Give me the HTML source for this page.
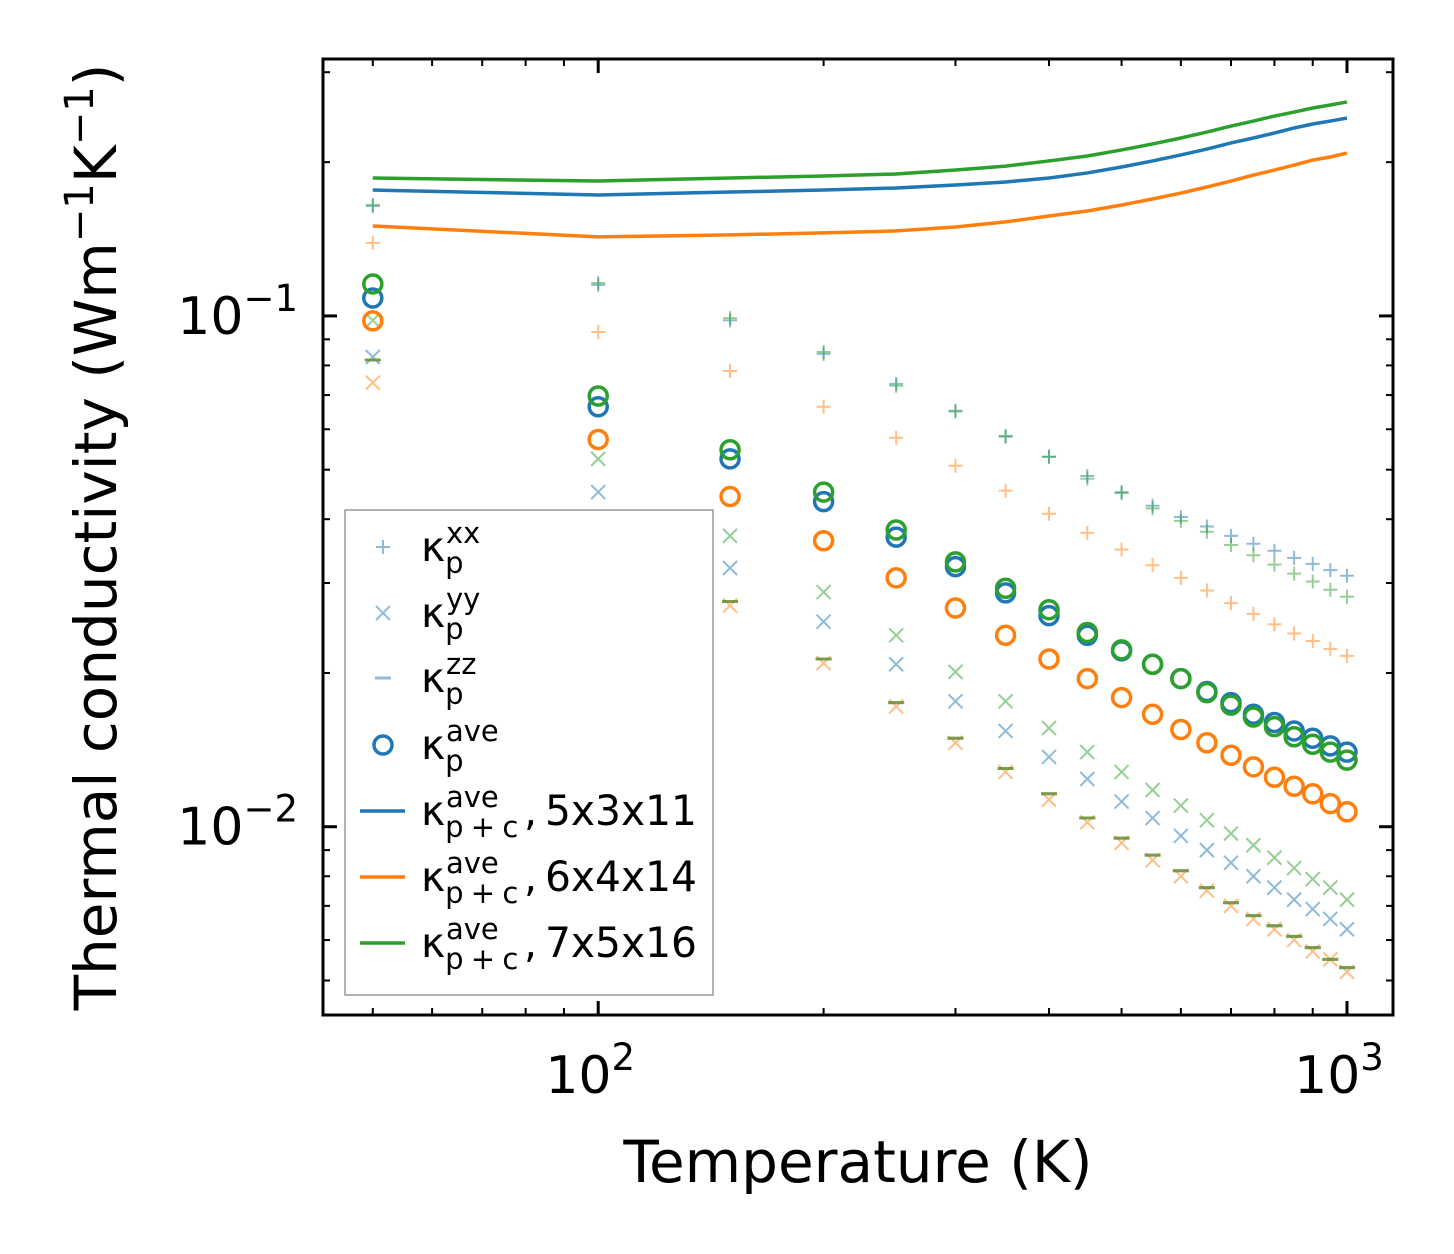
<!DOCTYPE html>
<html><head><meta charset="utf-8"><style>
html,body{margin:0;padding:0;background:#fff;}
svg{display:block;font-family:"DejaVu Sans","Liberation Sans",sans-serif;}
</style></head><body>
<svg id="chart" width="1454" height="1254" viewBox="0 0 1454 1254" xmlns="http://www.w3.org/2000/svg">
<rect width="1454" height="1254" fill="#fff"/>
<g id="marks"></g>
<g id="axes"></g>
<g id="legend"></g>
</svg>
<script>
const temps=[50,100,150,200,250,300,350,400,450,500,550,600,650,700,750,800,850,900,950,1000];
const aveBlue=[0.1084,0.0664,0.0525,0.0433,0.0369,0.0323,0.0287,0.0259,0.0237,0.0221,0.0208,0.0195,0.0184,0.0175,0.0166,0.016,0.0154,0.0149,0.0144,0.014];
const aveOrange=[0.0978,0.0573,0.0443,0.0363,0.0307,0.0268,0.0237,0.0213,0.0195,0.0179,0.0166,0.0155,0.0146,0.0138,0.0131,0.0125,0.012,0.0116,0.0111,0.0107];
const aveGreen=[0.1155,0.0697,0.0547,0.0452,0.0381,0.033,0.0293,0.0266,0.024,0.0222,0.0208,0.0195,0.0183,0.0173,0.0164,0.0157,0.015,0.0145,0.014,0.0135];
const xxBlue=[0.164,0.115,0.098,0.0843,0.0736,0.0652,0.0582,0.053,0.0486,0.0452,0.0425,0.0404,0.0387,0.0371,0.0358,0.0347,0.0336,0.0327,0.0318,0.031];
const xxGreen=[0.165,0.116,0.099,0.085,0.073,0.065,0.058,0.053,0.048,0.045,0.042,0.0397,0.0378,0.0356,0.034,0.0326,0.0313,0.0302,0.0291,0.0282];
const xxOrange=[0.139,0.093,0.078,0.0664,0.0577,0.0509,0.0455,0.041,0.0376,0.0349,0.0325,0.0307,0.029,0.0274,0.0261,0.0249,0.0239,0.0231,0.0223,0.0216];
const yyBlue=[0.0831,0.0452,0.0321,0.0252,0.0208,0.0176,0.0154,0.0137,0.0124,0.0112,0.0104,0.0096,0.009,0.0085,0.008,0.0076,0.0072,0.0069,0.0066,0.0063];
const yyGreen=[0.098,0.0525,0.0371,0.0288,0.0237,0.0201,0.0176,0.0156,0.014,0.0128,0.0118,0.011,0.0103,0.0097,0.0092,0.0087,0.0083,0.0079,0.0076,0.0072];
const yyOrange=[0.074,0.0381,0.0271,0.0209,0.0172,0.0146,0.0128,0.0113,0.0102,0.0093,0.0086,0.008,0.0075,0.007,0.0066,0.0063,0.006,0.0057,0.0055,0.0052];
const zzAll=[0.082,0.0397,0.0276,0.0213,0.0175,0.0149,0.013,0.0116,0.0104,0.0095,0.0088,0.0082,0.0076,0.0071,0.0067,0.0064,0.0061,0.0058,0.0055,0.0053];
const lineBlue=[0.1764,0.1725,0.1748,0.1764,0.178,0.1804,0.1829,0.1862,0.1905,0.1957,0.2011,0.2066,0.2122,0.2181,0.223,0.2281,0.2333,0.2375,0.2407,0.244];
const lineOrange=[0.15,0.1428,0.1441,0.1454,0.1467,0.1493,0.1528,0.1569,0.1605,0.1649,0.1694,0.174,0.1788,0.1837,0.1887,0.193,0.1974,0.2019,0.2047,0.2084];
const lineGreen=[0.1862,0.1837,0.1862,0.1879,0.1896,0.193,0.1965,0.2011,0.2056,0.2113,0.2171,0.223,0.2291,0.2353,0.2407,0.2462,0.2507,0.2553,0.2588,0.2624];
const xTickLabels=["2","3"];
const yTickLabels=["−1","−2"];

const NS="http://www.w3.org/2000/svg";
const L=323,R=1393,T=59,B=1015;
const xMin=Math.log10(42.9),xMax=Math.log10(1152);
const yMin=Math.log10(0.00428),yMax=Math.log10(0.3184);
const X=v=>L+(Math.log10(v)-xMin)/(xMax-xMin)*(R-L);
const Y=v=>B-(Math.log10(v)-yMin)/(yMax-yMin)*(B-T);
const C={b:"#1f77b4",o:"#ff7f0e",g:"#2ca02c"};
function el(tag,attrs,parent){const e=document.createElementNS(NS,tag);for(const k in attrs)e.setAttribute(k,attrs[k]);parent.appendChild(e);return e;}
const marks=document.getElementById('marks');

function lineSeries(arr,col,name){
  const p=el('polyline',{points:temps.map((t,i)=>X(t)+','+Y(arr[i])).join(' '),fill:'none',stroke:col,'stroke-width':3.5},marks);
  
  
}
function markerSeries(arr,col,kind,name){
  const g=el('g',{},marks);
  
  
  temps.forEach((t,i)=>{
    const x=X(t),y=Y(arr[i]);
    if(kind==='plus'){el('path',{d:`M${x-7},${y}H${x+7}M${x},${y-7}V${y+7}`,stroke:col,'stroke-width':2,'stroke-opacity':0.5,fill:'none'},g);}
    else if(kind==='x'){el('path',{d:`M${x-7},${y-7}L${x+7},${y+7}M${x-7},${y+7}L${x+7},${y-7}`,stroke:col,'stroke-width':2,'stroke-opacity':0.5,fill:'none'},g);}
    else if(kind==='dash'){el('path',{d:`M${x-8},${y}H${x+8}`,stroke:col,'stroke-width':3,'stroke-opacity':0.5,fill:'none'},g);}
    else {el('circle',{cx:x,cy:y,r:9,stroke:col,'stroke-width':3.5,fill:'none'},g);}
  });
}
lineSeries(lineBlue,C.b,'line-5x3x11');
lineSeries(lineOrange,C.o,'line-6x4x14');
lineSeries(lineGreen,C.g,'line-7x5x16');
markerSeries(xxBlue,C.b,'plus','kxx-5x3x11');
markerSeries(xxOrange,C.o,'plus','kxx-6x4x14');
markerSeries(xxGreen,C.g,'plus','kxx-7x5x16');
markerSeries(yyBlue,C.b,'x','kyy-5x3x11');
markerSeries(yyOrange,C.o,'x','kyy-6x4x14');
markerSeries(yyGreen,C.g,'x','kyy-7x5x16');
markerSeries(zzAll,C.b,'dash','kzz-5x3x11');
markerSeries(zzAll,C.o,'dash','kzz-6x4x14');
markerSeries(zzAll,C.g,'dash','kzz-7x5x16');
markerSeries(aveBlue,C.b,'circle','kave-5x3x11');
markerSeries(aveOrange,C.o,'circle','kave-6x4x14');
markerSeries(aveGreen,C.g,'circle','kave-7x5x16');

const axes=document.getElementById('axes');
const frame=el('rect',{x:L,y:T,width:R-L,height:B-T,fill:'none',stroke:'#000','stroke-width':3},axes);


for(let d=1;d<=3;d++){for(let m=1;m<10;m++){const v=m*Math.pow(10,d);const x=X(v);if(x<L||x>R)continue;const len=m===1?14:7;
  el('line',{x1:x,x2:x,y1:B,y2:B-len,stroke:'#000','stroke-width':m===1?3:2},axes);
  el('line',{x1:x,x2:x,y1:T,y2:T+len,stroke:'#000','stroke-width':m===1?3:2},axes);}}
for(let d=-3;d<=0;d++){for(let m=1;m<10;m++){const v=m*Math.pow(10,d);const y=Y(v);if(y<T||y>B)continue;const len=m===1?14:7;
  el('line',{x1:L,x2:L+len,y1:y,y2:y,stroke:'#000','stroke-width':m===1?3:2},axes);
  el('line',{x1:R,x2:R-len,y1:y,y2:y,stroke:'#000','stroke-width':m===1?3:2},axes);}}
[100,1000].forEach((v,i)=>{
  const t=el('text',{x:X(v)-8,y:1093,'font-size':52,'text-anchor':'middle'},axes);
  
  
  t.innerHTML='10<tspan dy="-23" font-size="37">'+xTickLabels[i]+'</tspan>';
});
[0.1,0.01].forEach((v,i)=>{
  const t=el('text',{x:298,y:Y(v)+18,'font-size':52,'text-anchor':'end'},axes);
  
  
  t.innerHTML='10<tspan dy="-23" font-size="37">'+yTickLabels[i]+'</tspan>';
});
const xt=el('text',{x:858,y:1182,'font-size':58,'text-anchor':'middle'},axes);


xt.textContent='Temperature (K)';
const yt=el('text',{x:0,y:0,'font-size':58,'text-anchor':'middle',transform:'translate(116,537) rotate(-90)'},axes);


yt.innerHTML='Thermal conductivity (Wm<tspan dy="-23" font-size="40">−1</tspan><tspan dy="23">K</tspan><tspan dy="-23" font-size="40">−1</tspan><tspan dy="23">)</tspan>';

const lg=document.getElementById('legend');
el('rect',{x:345,y:510,width:368,height:485,fill:'#fff',stroke:'#999','stroke-width':1.5},lg);
const rows=[
 {kind:'plus',col:C.b,sup:'xx',sub:'p',extra:''},
 {kind:'x',col:C.b,sup:'yy',sub:'p',extra:''},
 {kind:'dash',col:C.b,sup:'zz',sub:'p',extra:''},
 {kind:'circle',col:C.b,sup:'ave',sub:'p',extra:''},
 {kind:'line',col:C.b,sup:'ave',sub:'p + c',extra:'5x3x11'},
 {kind:'line',col:C.o,sup:'ave',sub:'p + c',extra:'6x4x14'},
 {kind:'line',col:C.g,sup:'ave',sub:'p + c',extra:'7x5x16'}];
const rowY=[547,613,678,745,811,877,943];
rows.forEach((r,i)=>{
  const g=el('g',{},lg);
  
  
  const x=383,y=rowY[i];
  if(r.kind==='plus')el('path',{d:`M${x-7},${y}H${x+7}M${x},${y-7}V${y+7}`,stroke:r.col,'stroke-width':2,'stroke-opacity':0.5},g);
  else if(r.kind==='x')el('path',{d:`M${x-7},${y-7}L${x+7},${y+7}M${x-7},${y+7}L${x+7},${y-7}`,stroke:r.col,'stroke-width':2,'stroke-opacity':0.5},g);
  else if(r.kind==='dash')el('path',{d:`M${x-8},${y}H${x+8}`,stroke:r.col,'stroke-width':3,'stroke-opacity':0.5},g);
  else if(r.kind==='circle')el('circle',{cx:x,cy:y,r:9,stroke:r.col,'stroke-width':3.5,fill:'none'},g);
  else el('line',{x1:360,x2:405,y1:y,y2:y,stroke:r.col,'stroke-width':3.5},g);
  const t=el('text',{x:421,y:y+14,'font-size':41},g);
  t.innerHTML='κ<tspan dy="12" font-size="29" letter-spacing="-1">'+r.sub+'</tspan>';
  const s=el('text',{x:446,y:y-4,'font-size':29},g);
  s.textContent=r.sup;
  if(r.extra){
    const c=el('text',{x:524,y:y+14,'font-size':41},g);c.textContent=',';
    const e=el('text',{x:545,y:y+14,'font-size':42,textLength:152,lengthAdjust:'spacingAndGlyphs'},g);e.textContent=r.extra;}
});
</script>
</body></html>
